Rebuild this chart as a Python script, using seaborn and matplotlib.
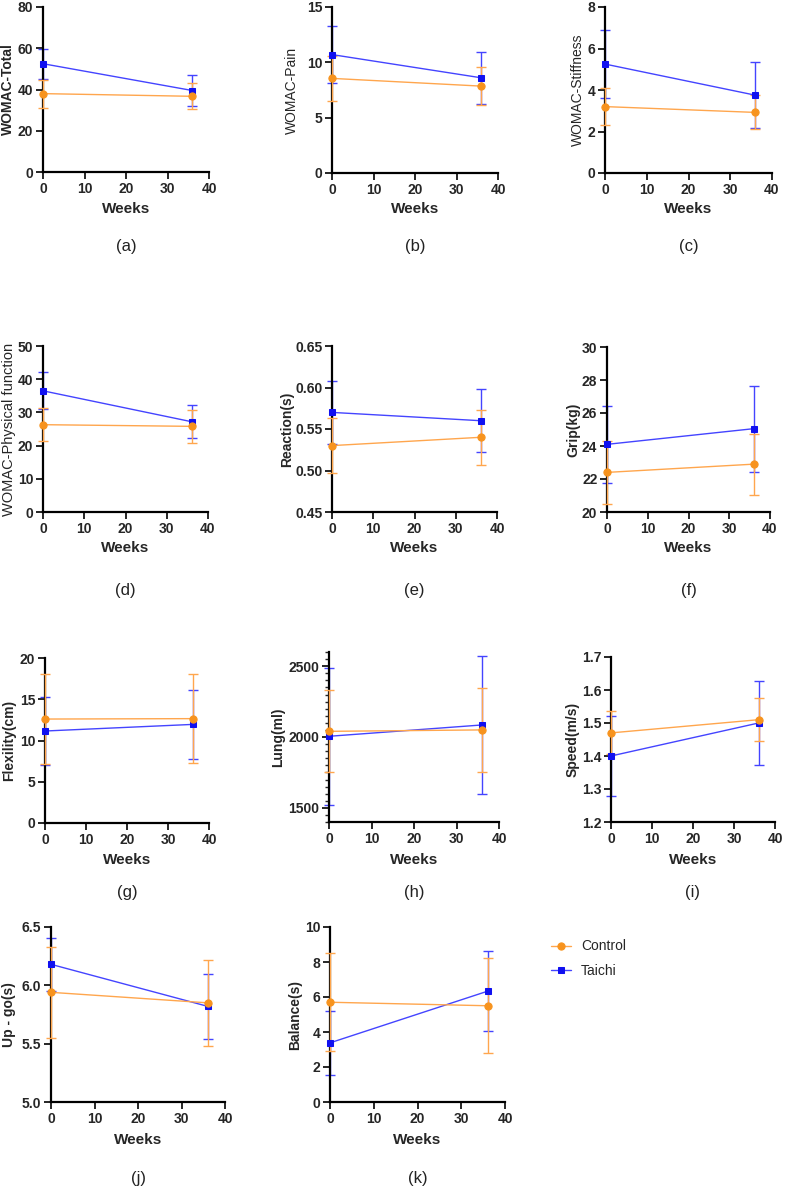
import pandas as pd
import matplotlib
matplotlib.use("Agg")
import matplotlib.pyplot as plt
from matplotlib.ticker import MultipleLocator, FormatStrFormatter
import seaborn as sns

# Dados (media e desvio padrao, semana 0 e 36)
weeks = [0, 36]
panel_tags = ['(a)', '(b)', '(c)', '(d)', '(e)', '(f)', '(g)', '(h)', '(i)', '(j)', '(k)']
y_labels = ['WOMAC-Total', 'WOMAC-Pain', 'WOMAC-Stiffness', 'WOMAC-Physical function',
            'Reaction(s)', 'Grip(kg)', 'Flexility(cm)', 'Lung(ml)', 'Speed(m/s)',
            'Up - go(s)', 'Balance(s)']

control_mean = [[38.0, 36.7], [8.55, 7.85], [3.2, 2.92], [26.3, 25.8], [0.530, 0.540],
                [22.4, 22.9], [12.6, 12.65], [2040, 2050], [1.47, 1.51], [5.94, 5.85],
                [5.7, 5.5]]
control_sd = [[6.8, 6.3], [2.05, 1.7], [0.9, 0.82], [4.9, 4.9], [0.033, 0.033],
              [1.9, 1.85], [5.5, 5.4], [290, 295], [0.065, 0.065], [0.39, 0.37],
              [2.8, 2.72]]
taichi_mean = [[52.5, 39.5], [10.7, 8.6], [5.25, 3.75], [36.5, 27.2], [0.570, 0.560],
               [24.1, 25.05], [11.15, 11.95], [2005, 2085], [1.40, 1.50], [6.18, 5.82],
               [3.38, 6.33]]
taichi_sd = [[7.2, 7.7], [2.55, 2.35], [1.65, 1.6], [5.6, 4.9], [0.038, 0.038],
             [2.35, 2.6], [4.15, 4.15], [485, 490], [0.12, 0.126], [0.23, 0.28],
             [1.83, 2.28]]

y_limits = [(0, 80), (0, 15), (0, 8), (0, 50), (0.45, 0.65), (20, 30), (0, 20),
            (1400, 2600), (1.2, 1.7), (5.0, 6.5), (0, 10)]
y_steps = [20, 5, 2, 10, 0.05, 2, 5, 500, 0.1, 0.5, 2]
y_formats = ['%d', '%d', '%d', '%d', '%.2f', '%d', '%d', '%d', '%.1f', '%.1f', '%d']
bold_ylabel = [True, False, False, False, True, True, True, True, True, True, True]
ylabel_size = [10, 10, 10, 10.5, 10, 10, 10, 10, 10, 10, 10]
# centro horizontal do rotulo do eixo y, em pixels
ylabel_x = [8, 292, 578, 9, 287, 573, 9, 278, 573, 9, 295]

# posicoes dos eixos em pixels: esquerda, topo, direita, base
axes_px = [(43, 7, 209, 172), (332, 7, 498, 173), (605, 7, 772, 173),
           (43, 346, 208, 512), (332, 346, 497, 512), (607, 347, 770, 512),
           (45, 658, 209, 823), (329, 652, 499, 822), (611, 657, 775, 822),
           (51, 927, 225, 1102), (330, 927, 505, 1102)]
weeks_y = [209, 209, 209, 548, 548, 548, 860, 860, 860, 1140, 1140]
tag_y = [247, 247, 247, 590, 590, 590, 893, 893, 893, 1179, 1179]

W, H = 789, 1190
cor_control = '#F7931E'
cor_taichi = '#1010F0'
linha_control = '#FFA64D'
linha_taichi = '#4444FF'

sns.set_style("ticks")
plt.rcParams['font.family'] = ['Liberation Sans', 'DejaVu Sans']

fig = plt.figure(figsize=(W / 100, H / 100), dpi=100)

handles = None
for i in range(len(panel_tags)):
    l, t, r, b = axes_px[i]
    ax = fig.add_axes([l / W, 1 - b / H, (r - l) / W, (b - t) / H])

    df = pd.DataFrame({
        'week': weeks * 2,
        'value': taichi_mean[i] + control_mean[i],
        'group': ['Taichi'] * 2 + ['Control'] * 2,
    })

    # barras de erro (desvio padrao)
    ax.errorbar(weeks, taichi_mean[i], yerr=taichi_sd[i], fmt='none',
                ecolor=linha_taichi, elinewidth=1.0, capsize=3.5, capthick=1.0, zorder=2)
    ax.errorbar(weeks, control_mean[i], yerr=control_sd[i], fmt='none',
                ecolor=linha_control, elinewidth=1.0, capsize=3.5, capthick=1.0, zorder=3)

    sns.lineplot(data=df[df.group == 'Taichi'], x='week', y='value', ax=ax,
                 color=linha_taichi, linewidth=1.0, marker='s', markersize=4.6,
                 markerfacecolor=cor_taichi, markeredgecolor=cor_taichi,
                 errorbar=None, zorder=4, label='Taichi', legend=False)
    sns.lineplot(data=df[df.group == 'Control'], x='week', y='value', ax=ax,
                 color=linha_control, linewidth=1.0, marker='o', markersize=5.2,
                 markerfacecolor=cor_control, markeredgecolor=cor_control,
                 errorbar=None, zorder=5, label='Control', legend=False)

    # nao cortar marcadores e barras sobre o eixo y
    for art in ax.lines + ax.collections:
        art.set_clip_on(False)

    ax.set_xlim(0, 40)
    ax.set_ylim(*y_limits[i])
    ax.xaxis.set_major_locator(MultipleLocator(10))
    ax.yaxis.set_major_locator(MultipleLocator(y_steps[i]))
    ax.yaxis.set_major_formatter(FormatStrFormatter(y_formats[i]))
    if i == 7:
        ax.yaxis.set_minor_locator(MultipleLocator(50))
        ax.tick_params(axis='y', which='minor', length=3, width=1.0)

    sns.despine(ax=ax)
    for s in ['left', 'bottom']:
        ax.spines[s].set_linewidth(1.6)
        ax.spines[s].set_color('black')
    ax.tick_params(axis='both', which='major', length=5, width=1.4, labelsize=10,
                   direction='out', pad=2)
    for lab in ax.get_xticklabels() + ax.get_yticklabels():
        lab.set_fontweight('bold')

    ax.set_xlabel('Weeks', fontsize=11, fontweight='bold')
    ax.xaxis.set_label_coords((l + r) / 2 / W, 1 - weeks_y[i] / H,
                              transform=fig.transFigure)
    ax.xaxis.label.set_va('center')
    ax.set_ylabel(y_labels[i], fontsize=ylabel_size[i],
                  fontweight='bold' if bold_ylabel[i] else 'normal')
    ax.yaxis.set_label_coords(ylabel_x[i] / W, 1 - (t + b) / 2 / H,
                              transform=fig.transFigure)
    ax.yaxis.label.set_va('center')

    # rotulo do painel abaixo do eixo
    fig.text((l + r) / 2 / W, 1 - tag_y[i] / H, panel_tags[i], ha='center',
             va='center', fontsize=12, color='#222222')

    if i == 0:
        h, lb = ax.get_legend_handles_labels()
        handles = dict(zip(lb, h))

fig.legend([handles['Control'], handles['Taichi']], ['Control', 'Taichi'],
           loc='upper left', bbox_to_anchor=(538 / W, 1 - 927 / H), frameon=False,
           fontsize=10, handlelength=1.5, handletextpad=0.7, labelspacing=0.75)

fig.savefig('out.png', dpi=100)
